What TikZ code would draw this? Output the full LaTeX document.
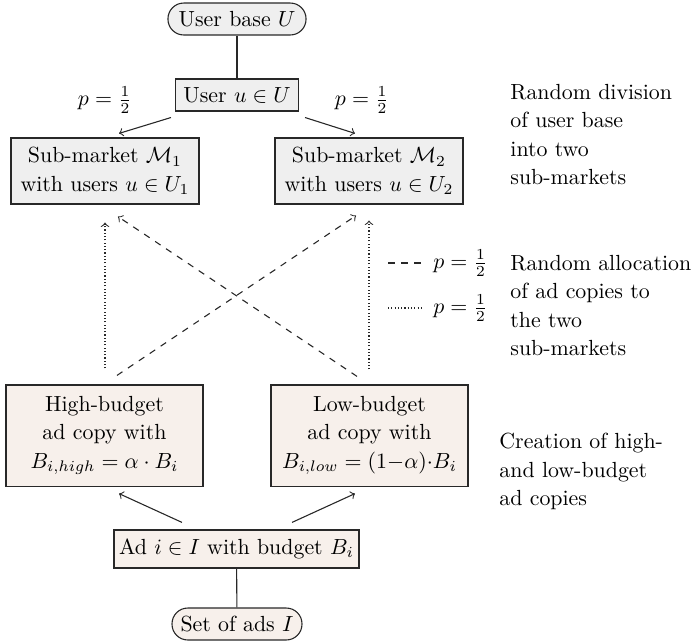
\documentclass[tikz,border=0pt]{standalone}
\usetikzlibrary{calc}
\definecolor{boxgray}{RGB}{239,239,239}
\definecolor{boxbeige}{RGB}{247,240,235}
\definecolor{edgecol}{RGB}{40,40,40}
\begin{document}
\begin{tikzpicture}[x=0.457pt,y=-0.457pt,
  every node/.style={font=\fontsize{10}{12.9}\selectfont},
  box/.style={draw=edgecol, line width=0.5pt, inner sep=0pt, align=center},
  graybox/.style={box, fill=boxgray},
  beigebox/.style={box, fill=boxbeige},
  pill/.style={rounded corners=7.2pt},
  link/.style={draw=edgecol, line width=0.5pt},
  arr/.style={link, ->},
  dashedarr/.style={link, ->, dashed},
  dotline/.style={link, dash pattern=on 0.5pt off 1pt},
  dottedarr/.style={dotline, ->},
  note/.style={align=left, anchor=west, inner sep=0pt},
  leg/.style={anchor=east, inner sep=0pt}
]
\useasboundingbox (0,0) rectangle (691,642);

% nodes
\node[graybox, pill, minimum width=63.1pt, minimum height=14.6pt] (base) at (237,19) {User base $U$};
\node[graybox, minimum width=56.2pt, minimum height=14.6pt] (user) at (237,95) {User $u \in U$};
\node[graybox, minimum width=85.9pt, minimum height=30.2pt] (m1) at (105,171) {Sub-market $\mathcal{M}_1$\\with users $u \in U_1$};
\node[graybox, minimum width=85.9pt, minimum height=30.2pt] (m2) at (369,171) {Sub-market $\mathcal{M}_2$\\with users $u \in U_2$};
\node (pl) at (105,100) {$p=\frac{1}{2}$};
\node (pr) at (362,100) {$p=\frac{1}{2}$};

\node[beigebox, minimum width=90pt, minimum height=46.2pt] (high) at (104.5,435.5) {High-budget\\ad copy with\\$B_{i,high} = \alpha\cdot B_i$};
\node[beigebox, minimum width=90pt, minimum height=46.2pt] (low) at (369.5,435.5) {Low-budget\\ad copy with\\$B_{i,low} = (1{-}\alpha){\cdot}B_i$};
\node[beigebox, minimum width=112pt, minimum height=17.4pt] (ad) at (236.5,549) {Ad $i \in I$ with budget $B_i$};
\node[beigebox, pill, minimum width=59.4pt, minimum height=14.6pt] (ads) at (237,624) {Set of ads $I$};

% legend
\node[leg] (legdash) at (488,263) {$p=\frac{1}{2}$};
\coordinate (legdashstart) at (388,263);
\node[leg] (legdot) at (488,308) {$p=\frac{1}{2}$};
\coordinate (legdotstart) at (388,308);
\draw[link, dashed, shorten >=3pt] (legdashstart) -- (legdash.west);
\draw[dotline, shorten >=4.5pt] (legdotstart) -- (legdot.west);

% notes
\node[note] (n1) at (510,134.5) {Random division\\of user base\\into two\\sub-markets};
\node[note] (n2) at (510,305.5) {Random allocation\\of ad copies to\\the two\\sub-markets};
\node[note] (n3) at (499,471.5) {Creation of high-\\and low-budget\\ad copies};

% connectors
\draw[link] (base) -- (user);
\draw[link] (ad) -- (ads);
\draw[arr] ($(user.south west)+(-4,6)$) -- ($(m1.north)+(14,-4)$);
\draw[arr] ($(user.south east)+(6,6)$) -- ($(m2.north)+(-14,-4)$);
\draw[dottedarr] ($(high.north)+(0.5,-16)$) -- ($(m1.south)+(0,18)$);
\draw[dottedarr] ($(low.north)+(-0.5,-15)$) -- ($(m2.south)+(0,16)$);
\draw[dashedarr] ($(high.north)+(12.5,-9)$) -- ($(m2.south)+(-13,11)$);
\draw[dashedarr] ($(low.north)+(-12.5,-8)$) -- ($(m1.south)+(13,12)$);
\draw[arr] ($(ad.north)+(-54.5,-7)$) -- ($(high.south)+(14.5,7)$);
\draw[arr] ($(ad.north)+(55.5,-7)$) -- ($(low.south)+(-14.5,7)$);
\end{tikzpicture}
\end{document}
